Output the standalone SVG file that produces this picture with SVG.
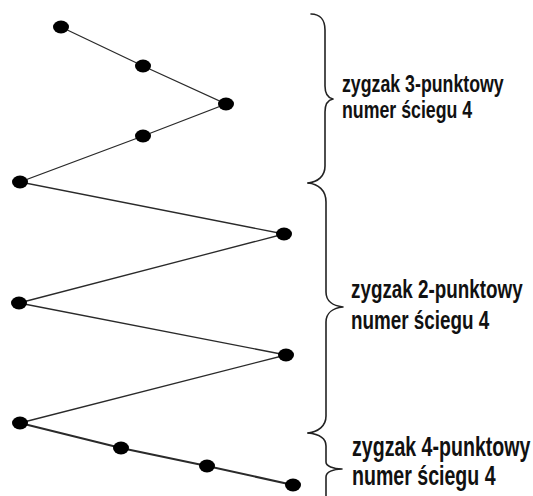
<svg xmlns="http://www.w3.org/2000/svg" width="533" height="496" viewBox="0 0 533 496">
<style>
.ln{stroke:#2a2a2a;stroke-width:1.3;fill:none;stroke-linecap:round}
.thick{stroke-width:2}
.dot{fill:#000}
.brace{stroke:#222;stroke-width:1.6;fill:none;stroke-linecap:round;stroke-linejoin:round}
.lbl{font-family:"Liberation Sans",Arial,sans-serif;font-weight:bold;fill:#111}
</style>
<rect width="533" height="496" fill="#fff"/>
<g id="connectors">
<polyline class="ln" points="61,27 143,66 226,104 143,136 20,182 284,234 19,303 286,355 20,423"/>
<polyline class="ln thick" points="20,423 121,448 207,466 293,485"/>
</g>
<g id="braces">
<path class="brace" d="M311,14 C320,14 325,20 325,30 L325,86 C325,94 328,98 333,99 C328,100 325,104 325,112 L325,166 C325,176 318,182 308,183"/>
<path class="brace" d="M308,183 C318,184 326,190 326,202 L326,292 C326,301 333,306 343,307 C333,308 326,313 326,322 L326,416 C326,426 318,432 308,433"/>
<path class="brace" d="M308,433 C318,434 326,438 326,446 L326,462 C326,466 333,469 342,469 C333,469 326,472 326,477 L326,496"/>
</g>
<g id="n1"><ellipse class="dot" cx="61" cy="27" rx="8" ry="6.5"/></g>
<g id="n2"><ellipse class="dot" cx="143" cy="66" rx="8" ry="6.5"/></g>
<g id="n3"><ellipse class="dot" cx="226" cy="104" rx="8" ry="6.5"/></g>
<g id="n4"><ellipse class="dot" cx="143" cy="136" rx="8" ry="6.5"/></g>
<g id="n5"><ellipse class="dot" cx="20" cy="182" rx="8" ry="6.5"/></g>
<g id="n6"><ellipse class="dot" cx="284" cy="234" rx="8" ry="6.5"/></g>
<g id="n7"><ellipse class="dot" cx="19" cy="303" rx="8" ry="6.5"/></g>
<g id="n8"><ellipse class="dot" cx="286" cy="355" rx="8" ry="6.5"/></g>
<g id="n9"><ellipse class="dot" cx="20" cy="423" rx="8" ry="6.5"/></g>
<g id="n10"><ellipse class="dot" cx="121" cy="448" rx="8" ry="6.5"/></g>
<g id="n11"><ellipse class="dot" cx="207" cy="466" rx="8" ry="6.5"/></g>
<g id="n12"><ellipse class="dot" cx="293" cy="485" rx="8" ry="6.5"/></g>
<g id="label1" transform="translate(342,0) scale(0.725,1)">
<text class="lbl" x="0" y="92" font-size="24.5">zygzak 3-punktowy</text>
<text class="lbl" x="0" y="118" font-size="24.5">numer ściegu 4</text>
</g>
<g id="label2" transform="translate(351,0) scale(0.725,1)">
<text class="lbl" x="0" y="298" font-size="26">zygzak 2-punktowy</text>
<text class="lbl" x="0" y="329" font-size="26">numer ściegu 4</text>
</g>
<g id="label3" transform="translate(352,0) scale(0.725,1)">
<text class="lbl" x="0" y="456" font-size="27">zygzak 4-punktowy</text>
<text class="lbl" x="0" y="485" font-size="27">numer ściegu 4</text>
</g>
</svg>
